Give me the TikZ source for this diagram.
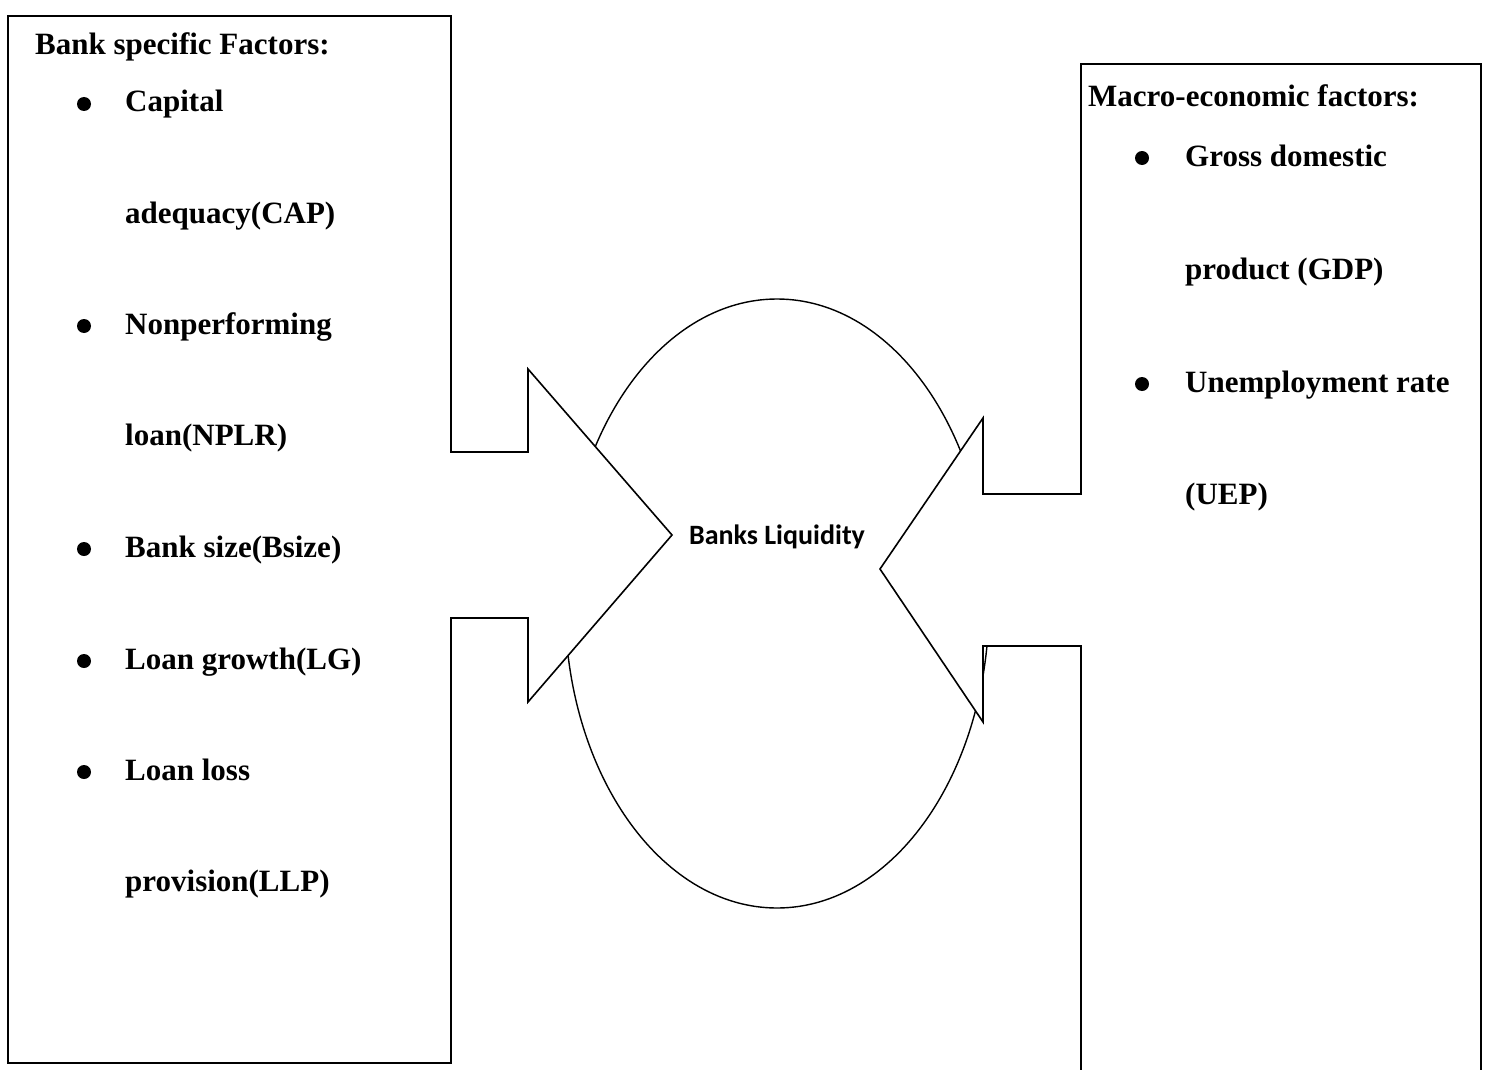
\documentclass[tikz,border=0pt]{standalone}
\usepackage{fontspec}
\setmainfont{Liberation Serif}
\newfontfamily\calib{Carlito}
\begin{document}
\begin{tikzpicture}[x=1pt,y=-1pt,
  shapeline/.style={draw=black,line width=1.6pt,fill=white,line join=miter},
  ovalline/.style={draw=black,line width=1.4pt},
  itemtext/.style={anchor=base west,inner sep=0pt,font=\fontsize{31}{31}\selectfont\bfseries},
  bul/.style={circle,fill=black,inner sep=0pt,minimum size=14pt},
  centertext/.style={anchor=base,inner sep=0pt,font=\calib\fontsize{28}{28}\selectfont\bfseries}]
\useasboundingbox (0,0) rectangle (1488,1070);
% ellipse
\draw[ovalline] (777,603.5) ellipse [x radius=212, y radius=304.5];
% left box with arrow
\coordinate (l1) at (8,16);
\coordinate (l2) at (451,16);
\coordinate (l3) at (451,452);
\coordinate (l4) at (528,452);
\coordinate (l5) at (528,369);
\coordinate (ltip) at (672,535);
\coordinate (l6) at (528,702);
\coordinate (l7) at (528,618);
\coordinate (l8) at (451,618);
\coordinate (l9) at (451,1063);
\coordinate (l10) at (8,1063);
\draw[shapeline] (l1) -- (l2) -- (l3) -- (l4) -- (l5) -- (ltip) -- (l6) -- (l7) -- (l8) -- (l9) -- (l10) -- cycle;
% right box with arrow
\coordinate (r1) at (1081,1075);
\coordinate (r2) at (1081,646);
\coordinate (r3) at (983,646);
\coordinate (r4) at (983,722);
\coordinate (rtip) at (880,569);
\coordinate (r5) at (983,418);
\coordinate (r6) at (983,494);
\coordinate (r7) at (1081,494);
\coordinate (r8) at (1081,64);
\coordinate (r9) at (1481,64);
\coordinate (r10) at (1481,1075);
\fill[white] (r1) -- (r2) -- (r3) -- (r4) -- (rtip) -- (r5) -- (r6) -- (r7) -- (r8) -- (r9) -- (r10) -- cycle;
\draw[shapeline,fill=none] (r1) -- (r2) -- (r3) -- (r4) -- (rtip) -- (r5) -- (r6) -- (r7) -- (r8) -- (r9) -- (r10);
% center text
\node[centertext] (liq) at (777,544) {Banks Liquidity};
% left texts
\node[itemtext] (lt) at (35,55) {Bank specific Factors:};
\node[bul] (b1) at (84,104) {};
\node[itemtext] (t1) at (125,112) {Capital};
\node[itemtext] (t1b) at (125,223) {adequacy(CAP)};
\node[bul] (b2) at (84,326) {};
\node[itemtext] (t2) at (125,334) {Nonperforming};
\node[itemtext] (t2b) at (125,445) {loan(NPLR)};
\node[bul] (b3) at (84,549) {};
\node[itemtext] (t3) at (125,557) {Bank size(Bsize)};
\node[bul] (b4) at (84,661) {};
\node[itemtext] (t4) at (125,669) {Loan growth(LG)};
\node[bul] (b5) at (84,772) {};
\node[itemtext] (t5) at (125,780) {Loan loss};
\node[itemtext] (t5b) at (125,891) {provision(LLP)};
% right texts
\node[itemtext] (rt) at (1088,107) {Macro-economic factors:};
\node[bul] (c1) at (1142,158) {};
\node[itemtext] (s1) at (1185,166) {Gross domestic};
\node[itemtext] (s1b) at (1185,279) {product (GDP)};
\node[bul] (c2) at (1142,384) {};
\node[itemtext] (s2) at (1185,392) {Unemployment rate};
\node[itemtext] (s2b) at (1185,504) {(UEP)};
\end{tikzpicture}
\end{document}
